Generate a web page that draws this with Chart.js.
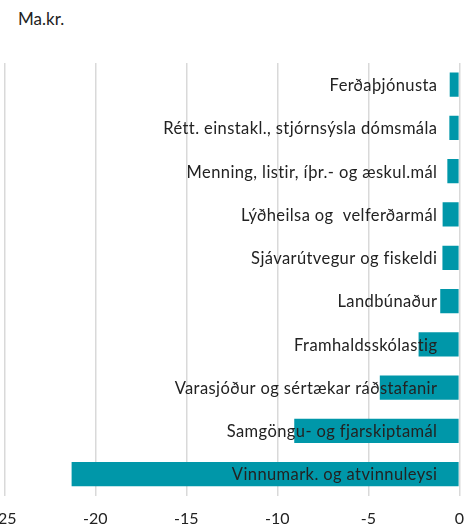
<!DOCTYPE html>
<html>
<head>
<meta charset="utf-8">
<script src="https://cdn.jsdelivr.net/npm/chart.js@4"></script>
<style>
  html, body { margin: 0; padding: 0; background: #fff; overflow: hidden; }
  #unit { position: absolute; left: 18px; top: 8px; font: 17px Lato, sans-serif; color: #222; }
  #wrap { position: absolute; left: -21px; top: 0; width: 498px; height: 529px; }
</style>
</head>
<body>
<div id="unit">Ma.kr.</div>
<div id="wrap"><canvas id="barChart"></canvas></div>
<script>
// flokkar, efst fyrst
const categories = [
  'Ferðaþjónusta',
  'Rétt. einstakl., stjórnsýsla dómsmála',
  'Menning, listir, íþr.- og æskul.mál',
  'Lýðheilsa og  velferðarmál',
  'Sjávarútvegur og fiskeldi',
  'Landbúnaður',
  'Framhaldsskólastig',
  'Varasjóður og sértækar ráðstafanir',
  'Samgöngu- og fjarskiptamál',
  'Vinnumark. og atvinnuleysi'
];
const values = [-0.53, -0.55, -0.66, -0.92, -0.93, -1.05, -2.24, -4.37, -9.07, -21.3];
const xTicks = [-25, -20, -15, -10, -5, 0];

const barColor = '#0097a9';

// teiknar heiti flokka inni í grafinu, hægrijafnað við 0-línuna
const insideLabels = {
  id: 'insideLabels',
  afterDatasetsDraw(chart) {
    const ctx = chart.ctx;
    const xs = chart.scales.x, ys = chart.scales.y;
    ctx.save();
    ctx.font = '16.5px Lato, sans-serif';
    ctx.letterSpacing = '0.4px';
    ctx.fillStyle = '#222';
    ctx.textAlign = 'right';
    ctx.textBaseline = 'middle';
    categories.forEach((c, i) => {
      ctx.fillText(c, xs.getPixelForValue(0) - 22, ys.getPixelForValue(i) + 1);
    });
    ctx.restore();
  }
};

new Chart(document.getElementById('barChart'), {
  type: 'bar',
  data: {
    labels: categories,
    datasets: [{
      data: values,
      backgroundColor: barColor,
      borderWidth: 0,
      barPercentage: 0.56,
      categoryPercentage: 1
    }]
  },
  options: {
    indexAxis: 'y',
    responsive: true,
    maintainAspectRatio: false,
    animation: false,
    layout: { padding: { top: 63, right: 13, left: 0, bottom: -12 } },
    plugins: { legend: { display: false }, tooltip: { enabled: false } },
    scales: {
      x: {
        min: -25, max: 0,
        afterBuildTicks: (axis) => { axis.ticks = xTicks.map(v => ({ value: v })); },
        grid: { color: '#d9d9d9', lineWidth: 1.5, drawTicks: false },
        border: { display: false },
        ticks: { color: '#222', font: { family: 'Lato, sans-serif', size: 16 }, padding: 13, maxRotation: 0 }
      },
      y: { display: false }
    }
  },
  plugins: [insideLabels]
});
</script>
</body>
</html>
